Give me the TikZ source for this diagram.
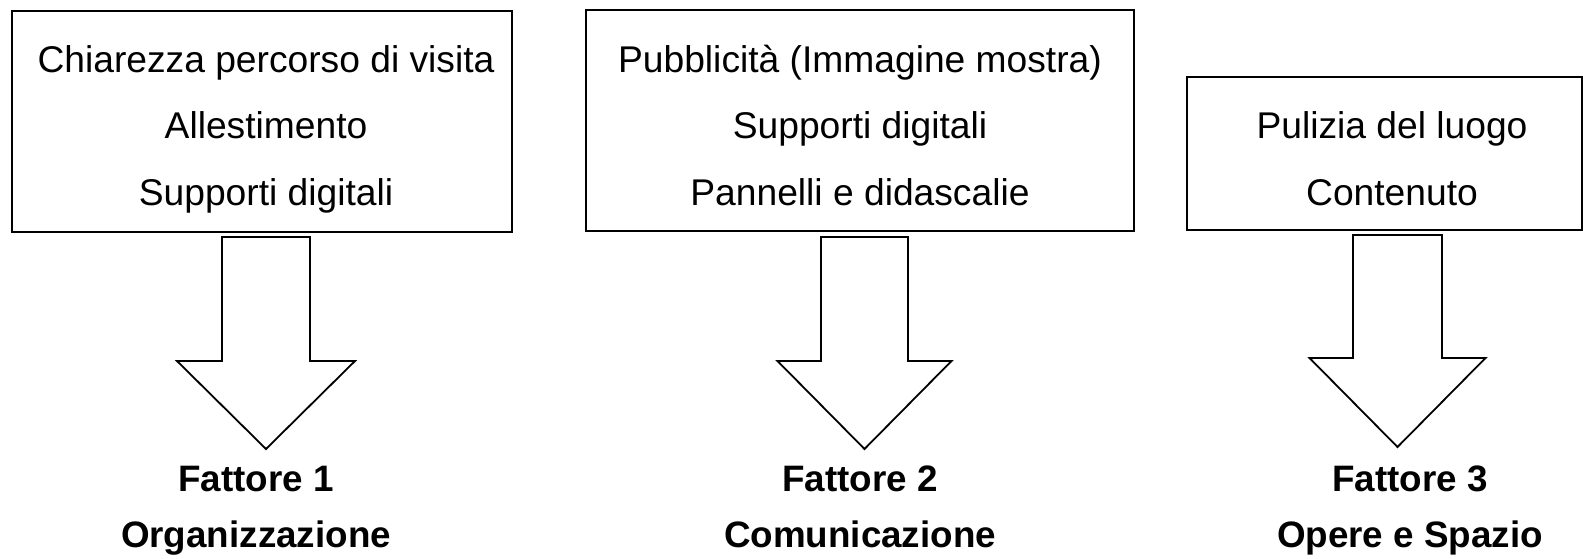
\documentclass[tikz,border=0pt]{standalone}
\usepackage{fontspec}
\setmainfont{Liberation Sans}

\tikzset{
  riquadro/.style={draw, line width=1.8pt, align=center, inner sep=0pt, text depth=0pt,
    font=\fontsize{37.2}{66.3}\selectfont},
  fattore/.style={align=center, inner sep=0pt, text height=27pt, text depth=8pt,
    font=\bfseries\fontsize{36.8}{56}\selectfont},
  freccia/.style={draw, line width=1.8pt, line join=miter}
}

\begin{document}
\begin{tikzpicture}[x=1pt, y=-1pt]
	\useasboundingbox (0,0) rectangle (1583,559);

	% Riquadri con le voci
	\node[riquadro, minimum width=500pt, minimum height=221pt, text height=167pt] (voci1) at (262,121.5)
		{\hspace*{8pt}Chiarezza percorso di visita\\\hspace*{8pt}Allestimento\\\hspace*{8pt}Supporti digitali};
	\node[riquadro, minimum width=548pt, minimum height=221pt, text height=169pt] (voci2) at (860,120.5)
		{Pubblicità (Immagine mostra)\\Supporti digitali\\Pannelli e didascalie};
	\node[riquadro, minimum width=395pt, minimum height=153pt, text height=103pt] (voci3) at (1384.5,153.5)
		{\hspace*{15pt}Pulizia del luogo\\\hspace*{15pt}Contenuto};

	% Frecce verso i fattori
	\foreach \cx/\ya/\ys/\yt/\s/\h in {266/237/361/449/44/89,
	                                     864.5/237/361/449/43.5/87,
	                                     1397.5/235/358/447/44.5/88}
		\draw[freccia] (\cx-\s,\ya) -- (\cx+\s,\ya) -- (\cx+\s,\ys) -- (\cx+\h,\ys)
			-- (\cx,\yt) -- (\cx-\h,\ys) -- (\cx-\s,\ys) -- cycle;

	% Fattori
	\node[fattore] (fatt1) at (256,537.8) {Fattore 1\\Organizzazione};
	\node[fattore] (fatt2) at (860,537.8) {Fattore 2\\Comunicazione};
	\node[fattore] (fatt3) at (1410,537.8) {Fattore 3\\Opere e Spazio};

\end{tikzpicture}
\end{document}
